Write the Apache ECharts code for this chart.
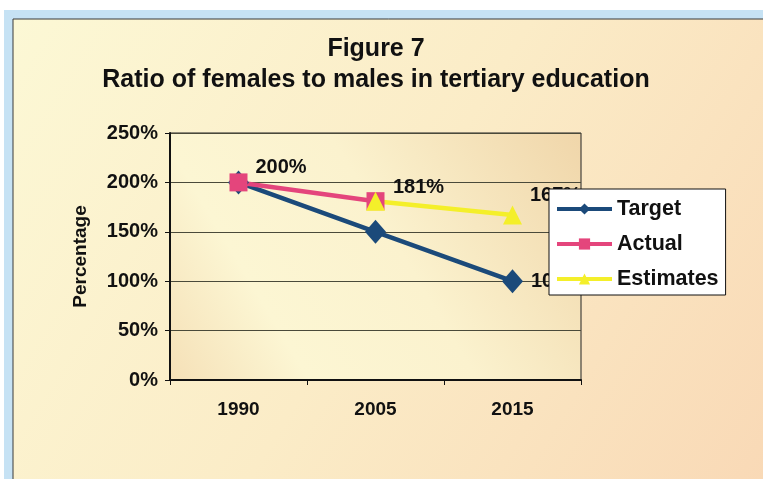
<!DOCTYPE html>
<html>
<head>
<meta charset="utf-8">
<script src="https://cdn.jsdelivr.net/npm/echarts@6/dist/echarts.min.js"></script>
<style>
  html, body { margin: 0; padding: 0; background: #ffffff; }
  #chart { width: 763px; height: 479px; }
</style>
</head>
<body>
<div id="chart"></div>
<script>
// data
const years = ['1990', '2005', '2015'];
const target = [200, 150, 100];
const actual = [200, 181, null];
const estimates = [null, 181, 167];
// which points carry a value label
const targetLabelled = [2];
const actualLabelled = [0];
const estimatesLabelled = [1, 2];

const FONT = 'Liberation Sans, Arial, sans-serif';

const chart = echarts.init(document.getElementById('chart'));

// builds data items, turning on the label only where the figure shows one
function withLabels(values, labelled, offsetY) {
  return values.map((v, i) => {
    if (labelled.indexOf(i) < 0) return v;
    return {
      value: v,
      label: {
        show: true,
        position: 'right',
        distance: 8,
        offset: [0, i === 2 && offsetY ? -20 : offsetY],
        formatter: '{c}%',
        color: '#111',
        fontFamily: FONT,
        fontWeight: 'bold',
        fontSize: 20
      }
    };
  });
}

const option = {
  backgroundColor: '#ffffff',
  animation: false,
  graphic: [
    {
      type: 'rect',
      z: -20,
      shape: { x: 4, y: 10, width: 759, height: 469 },
      style: { fill: '#c6e2f4' }
    },
    {
      type: 'rect',
      z: -10,
      shape: { x: 13, y: 19, width: 752, height: 462 },
      style: {
        fill: {
          type: 'linear', x: 0, y: 0, x2: 1, y2: 1,
          colorStops: [
            { offset: 0, color: '#fcf8d5' },
            { offset: 0.5, color: '#fbecc7' },
            { offset: 1, color: '#f9d9b6' }
          ]
        },
        stroke: '#3a3a3a',
        lineWidth: 1
      }
    }
  ],
  title: {
    text: 'Figure 7\nRatio of females to males in tertiary education',
    left: 371,
    top: 29,
    textAlign: 'center',
    textStyle: {
      fontFamily: FONT,
      fontWeight: 'bold',
      fontSize: 25,
      lineHeight: 31,
      color: '#111'
    }
  },
  legend: {
    orient: 'vertical',
    left: 549,
    top: 189,
    padding: [9, 7, 5, 6],
    itemGap: 13,
    itemWidth: 55,
    itemHeight: 14,
    backgroundColor: '#ffffff',
    borderColor: '#111',
    borderWidth: 1,
    z: 10,
    lineStyle: { width: 4 },
    textStyle: {
      fontFamily: FONT,
      fontWeight: 'bold',
      fontSize: 21.5,
      color: '#111'
    },
    data: ['Target', 'Actual', 'Estimates']
  },
  grid: {
    left: 170,
    right: 182,
    top: 133,
    bottom: 99,
    show: true,
    backgroundColor: {
      type: 'linear', x: 1, y: 0, x2: 0, y2: 1,
      colorStops: [
        { offset: 0, color: '#f0d6aa' },
        { offset: 0.45, color: '#fbf2ce' },
        { offset: 0.75, color: '#fcf6d3' },
        { offset: 1, color: '#f5e0b7' }
      ]
    },
    borderColor: '#222',
    borderWidth: 1
  },
  xAxis: {
    type: 'category',
    data: years,
    boundaryGap: true,
    axisLine: { lineStyle: { color: '#111', width: 2 } },
    axisTick: { show: true, length: 5, lineStyle: { color: '#111' } },
    axisLabel: {
      margin: 20,
      fontFamily: FONT,
      fontWeight: 'bold',
      fontSize: 19,
      color: '#111'
    }
  },
  yAxis: {
    type: 'value',
    min: 0,
    max: 250,
    interval: 50,
    name: 'Percentage',
    nameLocation: 'middle',
    nameGap: 80,
    nameTextStyle: {
      fontFamily: FONT,
      fontWeight: 'bold',
      fontSize: 19,
      color: '#111'
    },
    axisLine: { show: true, lineStyle: { color: '#111', width: 2 } },
    axisTick: { show: true, length: 5, lineStyle: { color: '#111' } },
    axisLabel: {
      margin: 12,
      formatter: '{value}%',
      fontFamily: FONT,
      fontWeight: 'bold',
      fontSize: 20,
      color: '#111'
    },
    splitLine: { lineStyle: { color: '#4a4a3a', width: 1 } }
  },
  series: [
    {
      name: 'Target',
      type: 'line',
      data: withLabels(target, targetLabelled, 0),
      symbol: 'diamond',
      symbolSize: [21, 24],
      lineStyle: { color: '#1b4a7a', width: 4.5 },
      itemStyle: { color: '#1b4a7a' }
    },
    {
      name: 'Actual',
      type: 'line',
      data: withLabels(actual, actualLabelled, -15),
      symbol: 'rect',
      symbolSize: 18,
      lineStyle: { color: '#e4457c', width: 4.5 },
      itemStyle: { color: '#e4457c' }
    },
    {
      name: 'Estimates',
      type: 'line',
      data: withLabels(estimates, estimatesLabelled, -14),
      symbol: 'triangle',
      symbolSize: 19,
      lineStyle: { color: '#f4ef2a', width: 4.5 },
      itemStyle: { color: '#f4ef2a' }
    }
  ]
};

chart.setOption(option);
</script>
</body>
</html>
